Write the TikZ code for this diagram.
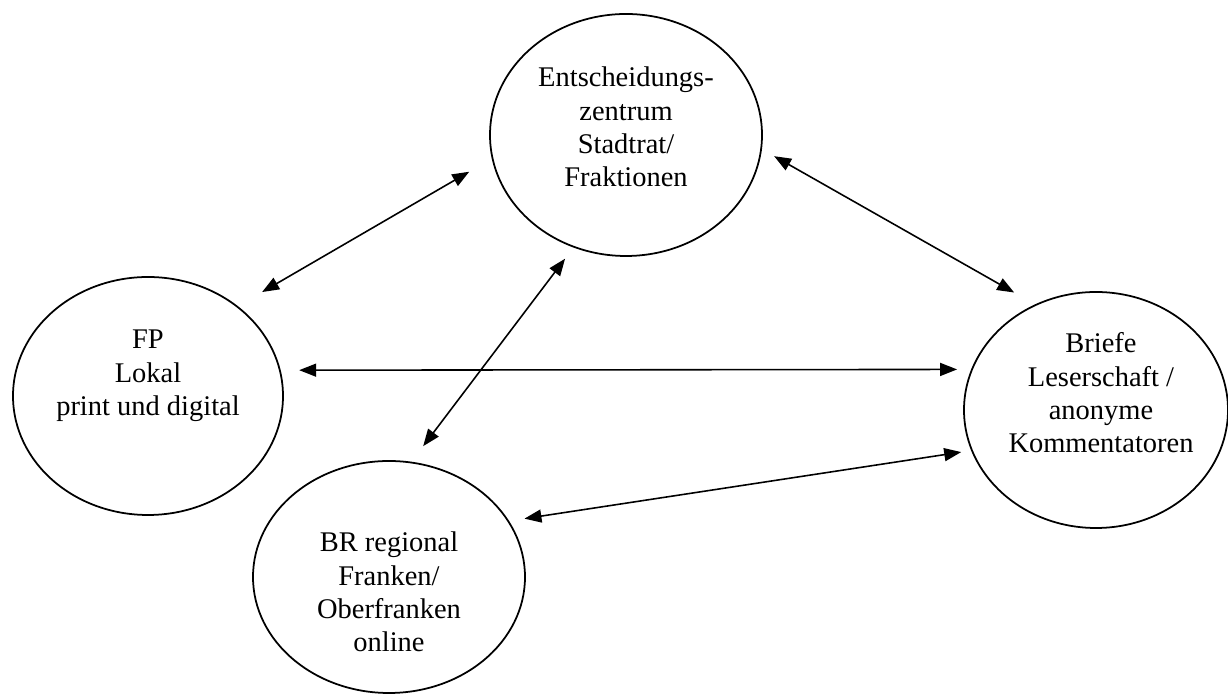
\documentclass[tikz,border=0pt]{standalone}
\usepackage{fontspec}
\setmainfont{Liberation Serif}
\usepackage{tikz}
\usetikzlibrary{arrows.meta,shapes.geometric}
\tikzset{
    bubble/.style={
           ellipse,
           draw=black, line width=1pt,
           inner sep=0pt,
           },
    caption/.style={
           align=center,
           font=\fontsize{16.2}{19}\selectfont,
           inner sep=0pt,
           },
}

\begin{document}
\begin{tikzpicture}[<->,>={Triangle[length=0.34cm,width=0.26cm]},line width=0.9pt]
\useasboundingbox (0,0) rectangle (24.56,13.92);
  \node[bubble,
 minimum width=5.44cm,
 minimum height=4.84cm] (ZEN) at (12.52,11.22) {};
  \node[bubble,
 minimum width=5.4cm,
 minimum height=4.76cm] (FP) at (2.96,6.0) {};
  \node[bubble,
 minimum width=5.28cm,
 minimum height=4.72cm] (LES) at (21.92,5.72) {};
  \node[bubble,
 minimum width=5.44cm,
 minimum height=4.64cm] (BR) at (7.78,2.38) {};

  % texts inside the ellipses
  \node[caption] (ZENtext) at ([yshift=1.6mm]ZEN.center)
 {Entscheidungs-\\zentrum\\Stadtrat/\\Fraktionen};
  \node[caption] (FPtext) at ([yshift=4mm]FP.center)
 {FP\\Lokal\\print und digital};
  \node[caption] (LEStext) at ([xshift=1mm,yshift=3.4mm]LES.center)
 {Briefe\\Leserschaft /\\anonyme\\Kommentatoren};
  \node[caption] (BRtext) at ([yshift=-3mm]BR.center)
 {BR regional\\Franken/\\Oberfranken\\online};

\path
  (FP.45) edge[shorten <=0.56cm, shorten >=0.52cm] (ZEN.190)
  (ZEN.-6) edge[shorten <=0.28cm, shorten >=0.48cm] (LES.120)
  (FP.11) edge[shorten <=0.37cm, shorten >=0.28cm] (LES.162)
  (ZEN.245) edge[shorten <=0.28cm, shorten >=0.39cm] (BR.79)
  (BR.25) edge[shorten <=0.31cm, shorten >=0.2cm] (LES.198)
 ;
\end{tikzpicture}
\end{document}
